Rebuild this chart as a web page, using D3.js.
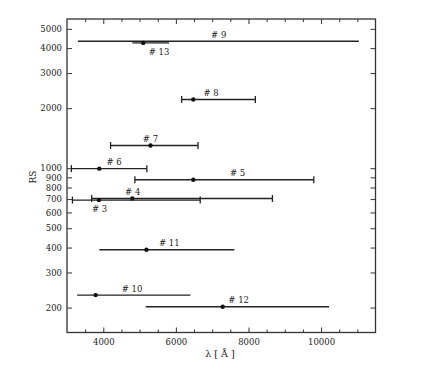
<!DOCTYPE html>
<html>
<head>
<meta charset="utf-8">
<script src="https://cdn.jsdelivr.net/npm/d3@7"></script>
<style>
body { margin: 0; background: #fff; }
text { font-family: "DejaVu Serif", "Liberation Serif", serif; fill: #222; }
</style>
</head>
<body>
<script>
// source numbers, wavelength ranges in Angstrom
var ids    = [9, 13, 8, 7, 6, 5, 4, 3, 11, 10, 12];
var rs     = [4330, 4250, 2210, 1300, 995, 875, 705, 692, 390, 231, 202];
var lamLo  = [3300, 4800, 6160, 4200, 3120, 4870, 3680, 3150, 3890, 3280, 5170];
var lamMid = [null, 5100, 6480, 5300, 3890, 6480, 4800, 3880, 5190, 3790, 7290];
var lamHi  = [11040, 5810, 8190, 6610, 5200, 9800, 8660, 6670, 7610, 6400, 10220];
var caps   = [false, false, true, true, true, true, true, true, false, false, false];

// where the "# n" label starts (Angstrom) and whether it sits under the bar
var labelLam   = [6970, 5250, 6760, 5090, 4090, 7490, 4600, 3690, 5535, 4510, 7445];
var labelBelow = [false, true, false, false, false, false, false, true, false, false, false];

var xMajor = [4000, 6000, 8000, 10000];
var xMinor = [3500, 4500, 5000, 5500, 6500, 7000, 7500, 8500, 9000, 9500, 10500, 11000];
var yTicks = [200, 300, 400, 500, 600, 700, 800, 900, 1000, 2000, 3000, 4000, 5000];

var W = 432, H = 385;
// plot box (window.top is reserved, so no plain "top")
var boxL = 67, boxT = 19, boxR = 375.5, boxB = 332.5;

var svg = d3.select("body").append("svg")
	.attr("width", W)
	.attr("height", H);

var x = d3.scaleLinear().domain([3000, 11500]).range([boxL, boxR]);
var y = d3.scaleLog().domain([150, 5600]).range([boxB, boxT]);

function styleAxis(g){
	g.select(".domain").remove();
	g.selectAll("line").attr("stroke", "#333").attr("stroke-width", 1);
	g.selectAll("text").attr("font-size", 8.5).attr("font-family", "DejaVu Serif");
}

// bottom axis, ticks pointing inward
svg.append("g")
	.attr("transform", "translate(0," + boxB + ")")
	.call(d3.axisBottom(x).tickValues(xMajor).tickSize(-5).tickPadding(6).tickFormat(d3.format("d")))
	.call(styleAxis);
svg.append("g")
	.attr("transform", "translate(0," + boxB + ")")
	.call(d3.axisBottom(x).tickValues(xMinor).tickSize(-3).tickFormat(""))
	.call(styleAxis);

// top axis
svg.append("g")
	.attr("transform", "translate(0," + boxT + ")")
	.call(d3.axisTop(x).tickValues(xMajor).tickSize(-5).tickFormat(""))
	.call(styleAxis);
svg.append("g")
	.attr("transform", "translate(0," + boxT + ")")
	.call(d3.axisTop(x).tickValues(xMinor).tickSize(-3).tickFormat(""))
	.call(styleAxis);

// left and right axes
svg.append("g")
	.attr("transform", "translate(" + boxL + ",0)")
	.call(d3.axisLeft(y).tickValues(yTicks).tickSize(-5).tickPadding(5).tickFormat(d3.format("d")))
	.call(styleAxis);
svg.append("g")
	.attr("transform", "translate(" + boxR + ",0)")
	.call(d3.axisRight(y).tickValues(yTicks).tickSize(-5).tickFormat(""))
	.call(styleAxis);

// frame
svg.append("rect")
	.attr("x", boxL).attr("y", boxT)
	.attr("width", boxR - boxL).attr("height", boxB - boxT)
	.attr("fill", "none")
	.attr("stroke", "#333")
	.attr("stroke-width", 1.3);

var rows = ids.map(function(d, i){
	return {id: d, rs: rs[i], lo: lamLo[i], mid: lamMid[i], hi: lamHi[i], cap: caps[i],
		lab: labelLam[i], below: labelBelow[i]};
});

var bars = svg.selectAll("g.bar")
	.data(rows)
	.enter()
	.append("g")
	.attr("class", "bar");

bars.append("line")
	.attr("x1", function(d){ return x(d.lo); })
	.attr("x2", function(d){ return x(d.hi); })
	.attr("y1", function(d){ return y(d.rs); })
	.attr("y2", function(d){ return y(d.rs); })
	.attr("stroke", "#222")
	.attr("stroke-width", 1.4);

// end caps only on some of the bars
bars.filter(function(d){ return d.cap; })
	.selectAll("line.cap")
	.data(function(d){ return [{v: d.lo, rs: d.rs}, {v: d.hi, rs: d.rs}]; })
	.enter()
	.append("line")
	.attr("class", "cap")
	.attr("x1", function(d){ return x(d.v); })
	.attr("x2", function(d){ return x(d.v); })
	.attr("y1", function(d){ return y(d.rs) - 3.5; })
	.attr("y2", function(d){ return y(d.rs) + 3.5; })
	.attr("stroke", "#222")
	.attr("stroke-width", 1.3);

bars.filter(function(d){ return d.mid != null; })
	.append("circle")
	.attr("cx", function(d){ return x(d.mid); })
	.attr("cy", function(d){ return y(d.rs); })
	.attr("r", 2.2)
	.attr("fill", "#111");

bars.append("text")
	.attr("x", function(d){ return x(d.lab); })
	.attr("y", function(d){ return y(d.rs) + (d.below ? 12 : -3.5); })
	.attr("font-size", 8.5)
	.text(function(d){ return "# " + d.id; });

// axis titles
svg.append("text")
	.attr("transform", "translate(36,177) rotate(-90)")
	.attr("text-anchor", "middle")
	.attr("font-size", 9)
	.text("RS");

svg.append("text")
	.attr("x", 220)
	.attr("y", 357)
	.attr("text-anchor", "middle")
	.attr("font-size", 9.5)
	.text("λ [ Å ]");
</script>
</body>
</html>
